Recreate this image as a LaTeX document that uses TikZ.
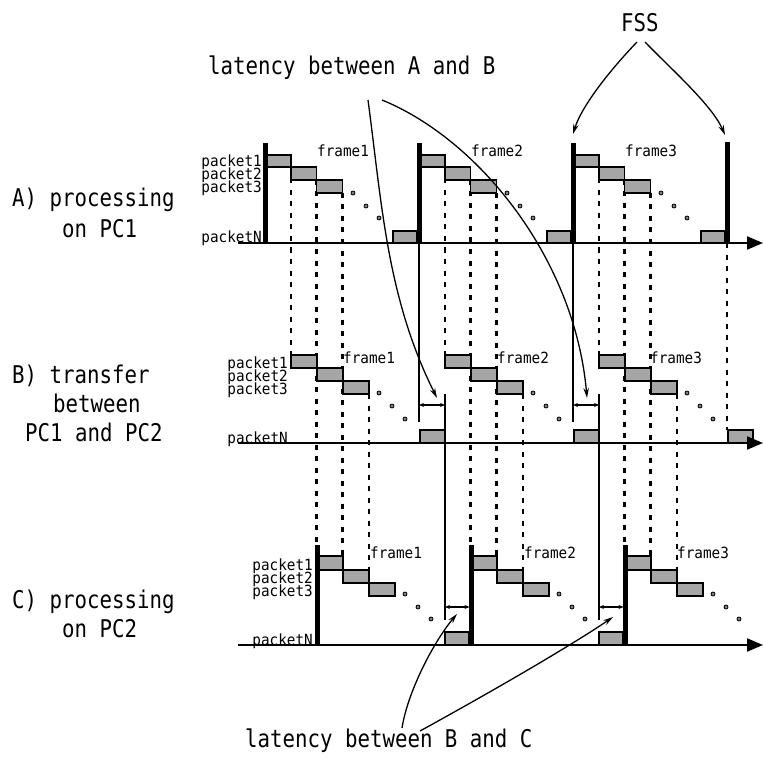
\documentclass[tikz,border=0pt]{standalone}
\usepackage{fontspec}
\usetikzlibrary{arrows.meta}
\newfontfamily\bigf[FakeStretch=0.85]{DejaVu Sans Mono}
\newfontfamily\smallf[FakeStretch=0.93]{DejaVu Sans Mono}
\begin{document}
\begin{tikzpicture}[x=1pt,y=-1pt,
  axis/.style={line width=2pt,-{Triangle[length=16pt,width=13pt]}},
  pkt/.style={draw=black,line width=1.8pt,fill=black!35},
  barf/.style={fill=black},
  dotl/.style={line width=2.4pt,dash pattern=on 5pt off 6.5pt,black},
  ext/.style={line width=1.2pt},
  dimline/.style={line width=1.2pt,{Stealth[length=5pt,width=4pt]}-{Stealth[length=5pt,width=4pt]}},
  callout/.style={line width=1.3pt,-{Stealth[length=10pt,width=5.5pt]}},
  bigt/.style={font=\bigf\fontsize{24.4}{26}\selectfont,inner sep=0pt,anchor=base west},
  smt/.style={font=\smallf\fontsize{15.4}{16}\selectfont,inner sep=0pt,anchor=base west},
  pkl/.style={font=\smallf\fontsize{15.4}{16}\selectfont,inner sep=0pt,anchor=base east},
  pdot/.style={draw=black,fill=black!50,line width=0.8pt}
]
\useasboundingbox (0,0) rectangle (763,762);

% ---------- dotted guide lines ----------
\foreach \k in {0,1,2}{
  \pgfmathsetmacro\o{154*\k}
  \draw[dotl] (291+\o,167) -- (291+\o,355);
  \draw[dotl] (316.5+\o,180) -- (316.5+\o,545);
  \draw[dotl] (342.5+\o,193) -- (342.5+\o,556);
  \draw[dotl] (369+\o,394) -- (369+\o,570);
}
\draw[dotl] (727,243) -- (727,430);

% ---------- extension lines and latency dimensions ----------
\foreach \k in {0,1}{
  \pgfmathsetmacro\o{154*\k}
  \draw[ext] (419+\o,243) -- (419+\o,422);
  \draw[ext] (445+\o,394) -- (445+\o,620);
  \draw[dimline] (419+\o,405) -- (445+\o,405);
  \draw[dimline] (445+\o,607) -- (469.5+\o,607);
}

% ---------- row A ----------
\foreach \k in {0,1,2}{
  \pgfmathsetmacro\o{154*\k}
  \fill[barf] (262.5+\o,143) rectangle (267.5+\o,243);
  \draw[pkt] (267.5+\o,155) rectangle (291+\o,167);
  \draw[pkt] (291+\o,167) rectangle (316.5+\o,180);
  \draw[pkt] (316.5+\o,180) rectangle (342.5+\o,193);
  \draw[pkt] (393+\o,231) rectangle (417+\o,243);
  \draw[pdot] (353+\o,193) circle[radius=2];
  \draw[pdot] (366+\o,206) circle[radius=2];
  \draw[pdot] (379+\o,218) circle[radius=2];
}
\fill[barf] (724.5,142) rectangle (729.5,243);
\draw[axis] (238,243) -- (763,243);

% ---------- row B ----------
\foreach \k in {0,1,2}{
  \pgfmathsetmacro\o{154*\k}
  \draw[pkt] (291+\o,355) rectangle (317+\o,368);
  \draw[pkt] (317+\o,368) rectangle (343+\o,381);
  \draw[pkt] (343+\o,381) rectangle (369+\o,394);
  \draw[pkt] (420+\o,430) rectangle (445+\o,443);
  \draw[pdot] (379+\o,393) circle[radius=2];
  \draw[pdot] (392+\o,406) circle[radius=2];
  \draw[pdot] (405+\o,419) circle[radius=2];
}
\draw[axis] (238,443) -- (763,443);

% ---------- row C ----------
\foreach \k in {0,1,2}{
  \pgfmathsetmacro\o{154*\k}
  \fill[barf] (314.5+\o,545) rectangle (319.5+\o,645);
  \draw[pkt] (319.5+\o,556) rectangle (343+\o,570);
  \draw[pkt] (343+\o,570) rectangle (369+\o,583);
  \draw[pkt] (369+\o,583) rectangle (395+\o,596);
  \draw[pdot] (405+\o,594) circle[radius=2];
  \draw[pdot] (418+\o,607) circle[radius=2];
  \draw[pdot] (431+\o,619) circle[radius=2];
}
\foreach \k in {0,1}{
  \pgfmathsetmacro\o{154*\k}
  \draw[pkt] (445+\o,632) rectangle (468.5+\o,645);
}
\draw[axis] (238,645) -- (763,645);

% ---------- packet labels ----------
\node[pkl] (pa1) at (262,167) {packet1};
\node[pkl] (pa2) at (262,180) {packet2};
\node[pkl] (pa3) at (262,193) {packet3};
\node[pkl] (paN) at (262,243) {packetN};
\node[pkl] (pb1) at (288,368) {packet1};
\node[pkl] (pb2) at (288,381) {packet2};
\node[pkl] (pb3) at (288,394) {packet3};
\node[pkl] (pbN) at (288,443) {packetN};
\node[pkl] (pc1) at (313,570) {packet1};
\node[pkl] (pc2) at (313,583) {packet2};
\node[pkl] (pc3) at (313,596) {packet3};
\node[pkl] (pcN) at (313,645) {packetN};

% ---------- frame labels ----------
\node[smt] (fa1) at (317,157) {frame1};
\node[smt] (fa2) at (471,157) {frame2};
\node[smt] (fa3) at (625,157) {frame3};
\node[smt] (fb1) at (343,363) {frame1};
\node[smt] (fb2) at (497,363) {frame2};
\node[smt] (fb3) at (650,363) {frame3};
\node[smt] (fc1) at (370,558) {frame1};
\node[smt] (fc2) at (524,558) {frame2};
\node[smt] (fc3) at (677,558) {frame3};

% ---------- row titles ----------
\node[bigt] (ta1) at (12,207) {A) processing};
\node[bigt] (ta2) at (62,237) {on PC1};
\node[bigt] (tb1) at (12,383) {B) transfer};
\node[bigt] (tb2) at (53,412) {between};
\node[bigt] (tb3) at (25,441) {PC1 and PC2};
\node[bigt] (tc1) at (12,608) {C) processing};
\node[bigt] (tc2) at (62,637) {on PC2};

% ---------- callout labels ----------
\node[bigt] (latab) at (208,75) {latency between A and B};
\node[bigt] (latbc) at (245,747) {latency between B and C};
\node[bigt] (fss) at (621,32) {FSS};

% ---------- callout connectors ----------
\coordinate (ab1s) at (368,100);
\coordinate (ab1e) at (437,398);
\coordinate (ab2s) at (382,100);
\coordinate (ab2e) at (587,398);
\draw[callout] (ab1s) .. controls (382,205) and (387,298) .. (ab1e);
\draw[callout] (ab2s) .. controls (480,140) and (575,260) .. (ab2e);

\coordinate (fs1s) at (637,42);
\coordinate (fs1e) at (573,134);
\coordinate (fs2s) at (645,42);
\coordinate (fs2e) at (725,135);
\draw[callout] (fs1s) .. controls (612,68) and (582,105) .. (fs1e);
\draw[callout] (fs2s) .. controls (670,68) and (712,105) .. (fs2e);

\coordinate (bc1s) at (402,728);
\coordinate (bc1e) at (457,614);
\coordinate (bc2s) at (420,731);
\coordinate (bc2e) at (613,617);
\draw[callout] (bc1s) .. controls (408,690) and (435,640) .. (bc1e);
\draw[callout] (bc2s) .. controls (500,687) and (575,643) .. (bc2e);
\end{tikzpicture}
\end{document}
